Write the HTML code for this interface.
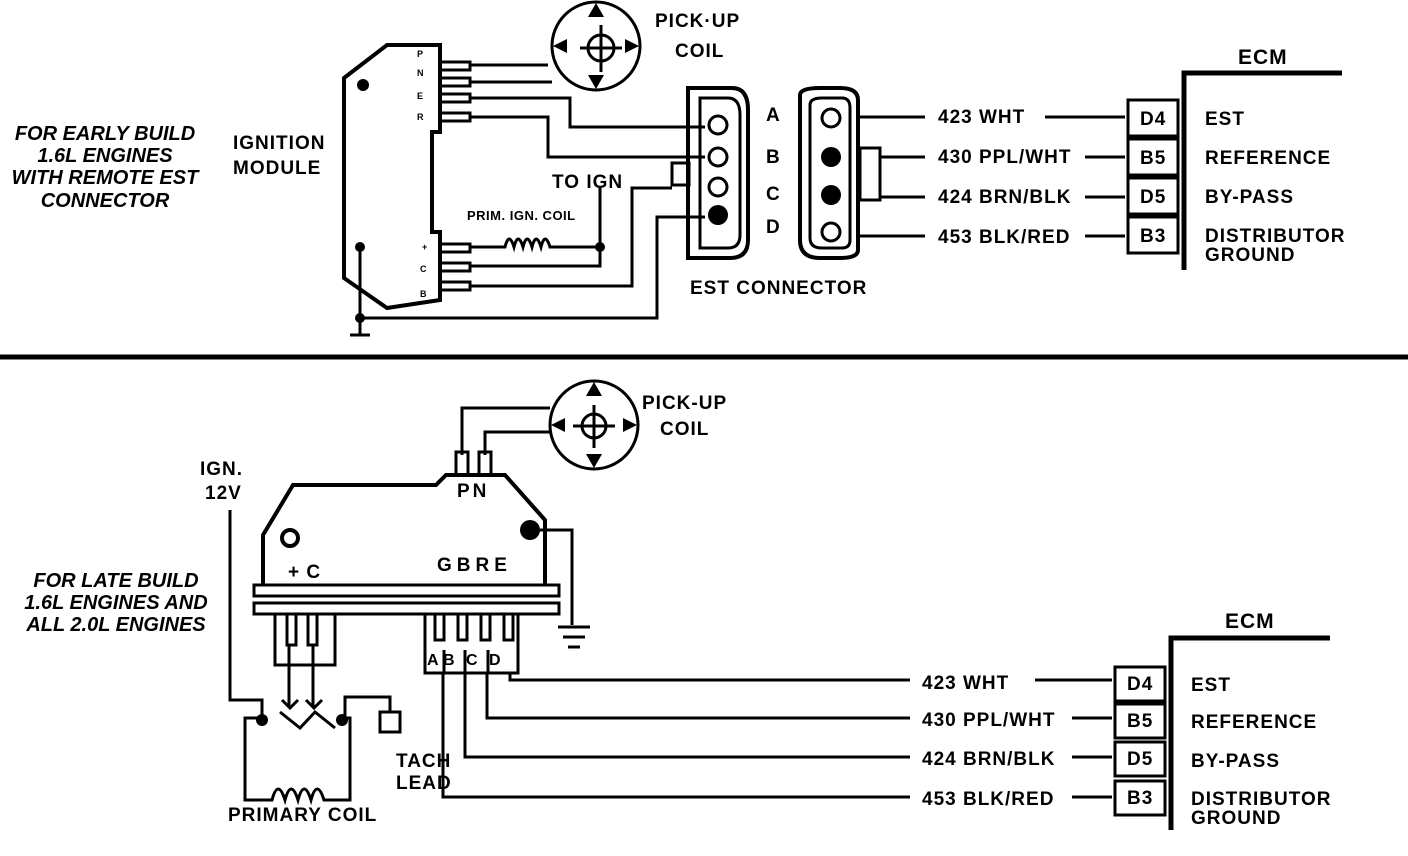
<!DOCTYPE html>
<html><head><meta charset="utf-8"><style>
html,body{margin:0;padding:0;background:#fff;}
svg{display:block;}
text{font-family:"Liberation Sans",sans-serif;font-weight:bold;fill:#000;}
</style></head><body>
<svg width="1408" height="856" viewBox="0 0 1408 856" xmlns="http://www.w3.org/2000/svg">
<g fill="none" stroke="#000" stroke-width="3" stroke-linejoin="miter">
<path d="M344,78 L387,45 L440,45 L440,132 L432,132 L432,232 L440,232 L440,300 L387,308 L344,278 Z" stroke-width="4"/>
<path d="M440,62 H470 V70 H440 M440,78 H470 V86 H440 M440,94 H470 V102 H440 M440,113 H470 V121 H440"/>
<path d="M440,244 H470 V252 H440 M440,263 H470 V271 H440 M440,282 H470 V290 H440"/>
<path d="M470,65 H548 M470,82 H552"/>
<path d="M470,98 H570 V127 H705"/>
<path d="M470,117 H548 V157 H705"/>
<path d="M470,247 H505 q4,-16 9,0 q4,-16 9,0 q4,-16 9,0 q4,-16 9,0 q4,-16 9,0 V247 H600"/>
<path d="M600,188 V266 H470"/>
<path d="M470,286 H632 V188 H672"/>
<rect x="672" y="163" width="17" height="22"/>
<path d="M360,247 V318 H657 V217 H705"/>
<path d="M360,318 V335 M350,335 H370"/>
<circle cx="596" cy="46" r="44"/>
<circle cx="601" cy="48" r="13"/>
<path d="M601,25 V72 M580,48 H622"/>
<path d="M688,88 H732 Q748,88 748,110 V240 Q748,258 730,258 H688 Z" stroke-width="4"/>
<path d="M700,98 H728 Q740,98 740,115 V235 Q740,248 728,248 H700 Z"/>
<path d="M800,95 Q800,88 820,88 H840 Q858,88 858,100 V250 Q858,258 840,258 H820 Q800,258 800,240 Z" stroke-width="4"/>
<path d="M810,105 Q810,98 822,98 H842 Q850,98 850,108 V240 Q850,248 842,248 H822 Q810,248 810,238 Z"/>
<rect x="860" y="148" width="20" height="52" stroke-width="3"/>
<path d="M858,117 H925 M1045,117 H1125"/>
<path d="M880,157 H925 M1085,157 H1125"/>
<path d="M880,197 H925 M1085,197 H1125"/>
<path d="M858,236 H925 M1085,236 H1125"/>
<rect x="1128" y="100" width="50" height="36"/>
<rect x="1128" y="139" width="50" height="36"/>
<rect x="1128" y="178" width="50" height="36"/>
<rect x="1128" y="217" width="50" height="36"/>
<path d="M1184,270 V73 H1342" stroke-width="5"/>
<path d="M0,357 H1408" stroke-width="5"/>
<circle cx="594" cy="425" r="44"/>
<circle cx="594" cy="426" r="12"/>
<path d="M594,405 V448 M573,426 H615"/>
<path d="M462,455 V408 H550 M485,455 V432 H550"/>
<path d="M456,477 V452 H468 V477 M479,477 V452 H491 V477"/>
<path d="M263,585 V535 L293,485 L436,485 L446,475 L505,475 L545,520 V585" stroke-width="4"/>
<circle cx="290" cy="538" r="8" stroke-width="4"/>
<path d="M540,530 H572 V625"/>
<path d="M558,627 H590 M563,637 H585 M568,647 H580"/>
<rect x="254" y="585" width="305" height="11"/>
<rect x="254" y="603" width="305" height="11"/>
<path d="M275,614 V665 H335 V614 M287,614 V645 H296 V614 M308,614 V645 H317 V614"/>
<path d="M289,645 V706 M313,645 V706"/>
<path d="M425,614 V673 H518 V614 M435,614 V640 H444 V614 M458,614 V640 H467 V614 M481,614 V640 H490 V614 M504,614 V640 H513 V614"/>
<path d="M444,650 V673 M465,650 V673 M488,650 V673"/>
<path d="M510,673 V680 H910 M1035,680 H1112"/>
<path d="M487,673 V718 H910 M1072,718 H1112"/>
<path d="M465,673 V757 H910 M1072,757 H1112"/>
<path d="M443,673 V797 H910 M1072,797 H1112"/>
<rect x="1115" y="667" width="50" height="34"/>
<rect x="1115" y="704" width="50" height="34"/>
<rect x="1115" y="742" width="50" height="34"/>
<rect x="1115" y="781" width="50" height="34"/>
<path d="M1171,830 V638 H1330" stroke-width="5"/>
<path d="M230,510 V700 H262 V718"/>
<path d="M262,718 H245 V800 H272 q6,-22 13,0 q6,-22 13,0 q6,-22 13,0 q6,-22 13,0 H350 V718 H342"/>
<path d="M280,712 L300,728 L315,712 L335,728"/>
<path d="M282,700 L290,708 L298,700 M306,700 L314,708 L322,700"/>
<path d="M345,718 V697 H390 V712"/>
<rect x="380" y="712" width="20" height="20"/>
</g>
<g fill="#000">
<circle cx="363" cy="85" r="6"/>
<circle cx="360" cy="247" r="5"/>
<circle cx="360" cy="318" r="5"/>
<circle cx="600" cy="247" r="5"/>
<circle cx="530" cy="530" r="10"/>
<circle cx="262" cy="720" r="6"/>
<circle cx="342" cy="720" r="6"/>
<circle cx="718" cy="125" r="9" fill="none" stroke="#000" stroke-width="3"/>
<circle cx="718" cy="157" r="9" fill="none" stroke="#000" stroke-width="3"/>
<circle cx="718" cy="187" r="9" fill="none" stroke="#000" stroke-width="3"/>
<circle cx="718" cy="215" r="10"/>
<circle cx="831" cy="118" r="9" fill="none" stroke="#000" stroke-width="3"/>
<circle cx="831" cy="157" r="10"/>
<circle cx="831" cy="195" r="10"/>
<circle cx="831" cy="232" r="9" fill="none" stroke="#000" stroke-width="3"/>
<path d="M596,3 l-8,14 h16z M596,89 l-8,-14 h16z M553,46 l14,-7 v14z M639,46 l-14,-7 v14z"/>
<path d="M594,382 l-8,14 h16z M594,468 l-8,-14 h16z M551,425 l14,-7 v14z M637,425 l-14,-7 v14z"/>
</g>
<g font-size="19" letter-spacing="1">
<text x="655" y="27">PICK·UP</text><text x="675" y="57">COIL</text>
<text x="233" y="149">IGNITION</text><text x="233" y="174">MODULE</text>
<text x="552" y="188">TO IGN</text>
<text x="690" y="294">EST CONNECTOR</text>
<text x="766" y="121">A</text><text x="766" y="163">B</text><text x="766" y="200">C</text><text x="766" y="233">D</text>
<text x="938" y="123">423 WHT</text><text x="938" y="163">430 PPL/WHT</text><text x="938" y="203">424 BRN/BLK</text><text x="938" y="243">453 BLK/RED</text>
<text x="1140" y="125">D4</text><text x="1140" y="164">B5</text><text x="1140" y="203">D5</text><text x="1140" y="242">B3</text>
<text x="1205" y="125">EST</text><text x="1205" y="164">REFERENCE</text><text x="1205" y="203">BY-PASS</text><text x="1205" y="242">DISTRIBUTOR</text><text x="1205" y="261">GROUND</text>
<text x="1238" y="64" font-size="21">ECM</text>
<text x="642" y="409">PICK-UP</text><text x="660" y="435">COIL</text>
<text x="200" y="475">IGN.</text><text x="205" y="499">12V</text>
<text x="288" y="578">+ C</text>
<text x="437" y="571" letter-spacing="5">GBRE</text>
<text x="457" y="497" letter-spacing="3">PN</text>
<text x="427" y="665" font-size="16" letter-spacing="0">A</text><text x="443" y="665" font-size="16" letter-spacing="0">B</text><text x="466" y="665" font-size="16" letter-spacing="0">C</text><text x="489" y="665" font-size="16" letter-spacing="0">D</text>
<text x="396" y="767">TACH</text><text x="396" y="789">LEAD</text>
<text x="228" y="821">PRIMARY COIL</text>
<text x="922" y="689">423 WHT</text><text x="922" y="726">430 PPL/WHT</text><text x="922" y="765">424 BRN/BLK</text><text x="922" y="805">453 BLK/RED</text>
<text x="1127" y="690">D4</text><text x="1127" y="727">B5</text><text x="1127" y="765">D5</text><text x="1127" y="804">B3</text>
<text x="1191" y="691">EST</text><text x="1191" y="728">REFERENCE</text><text x="1191" y="767">BY-PASS</text><text x="1191" y="805">DISTRIBUTOR</text><text x="1191" y="824">GROUND</text>
<text x="1225" y="628" font-size="21">ECM</text>
<text x="467" y="220" font-size="13" letter-spacing="0.5">PRIM. IGN. COIL</text>
</g>
<g font-size="9">
<text x="417" y="57">P</text><text x="417" y="76">N</text><text x="417" y="99">E</text><text x="417" y="120">R</text>
<text x="422" y="250">+</text><text x="420" y="272">C</text><text x="420" y="297">B</text>
</g>
<g font-size="20" font-style="italic" text-anchor="middle">
<text x="105" y="140">FOR EARLY BUILD</text><text x="105" y="162">1.6L ENGINES</text><text x="105" y="184">WITH REMOTE EST</text><text x="105" y="207">CONNECTOR</text>
<text x="116" y="587">FOR LATE BUILD</text><text x="116" y="609">1.6L ENGINES AND</text><text x="116" y="631">ALL 2.0L ENGINES</text>
</g>
</svg>
</body></html>
